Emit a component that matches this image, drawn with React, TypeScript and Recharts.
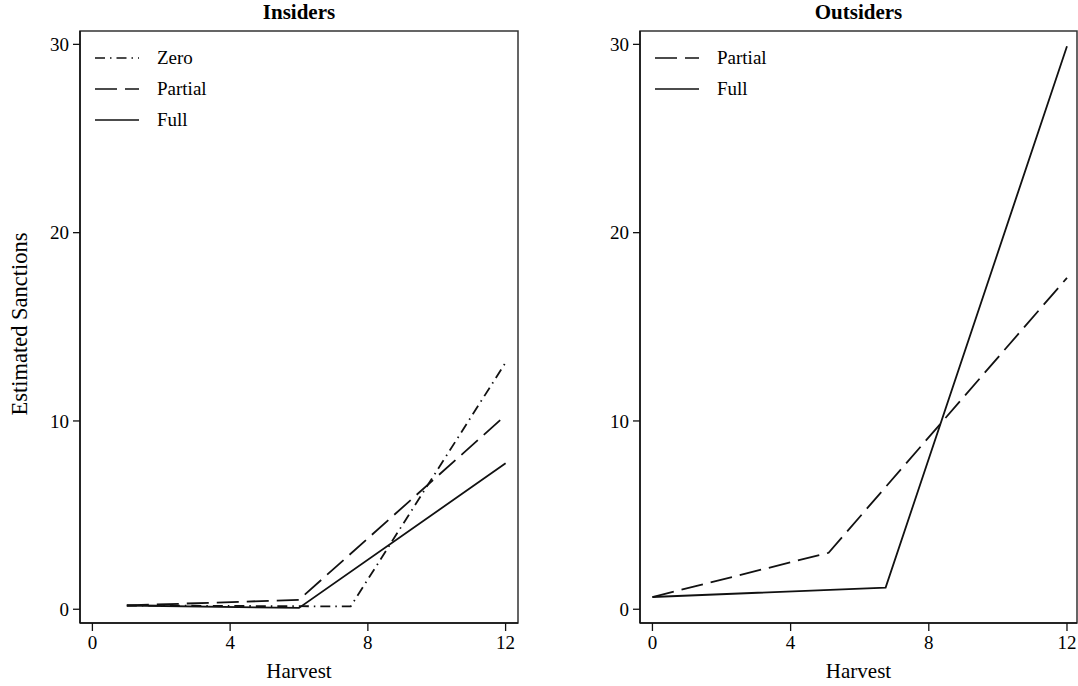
import {
  LineChart,
  Line,
  XAxis,
  YAxis,
  ReferenceArea,
  Legend,
} from "recharts";

// Insiders panel (harvest, estimated sanctions)
const insZeroHarvest = [1, 7.5, 12];
const insZeroValues = [0.2, 0.15, 13.1];
const insPartialHarvest = [1, 6, 12];
const insPartialValues = [0.2, 0.5, 10.3];
const insFullHarvest = [1, 6, 12];
const insFullValues = [0.2, 0.07, 7.75];

// Outsiders panel
const outPartialHarvest = [0, 5.1, 12];
const outPartialValues = [0.65, 3.0, 17.6];
const outFullHarvest = [0, 6.75, 12];
const outFullValues = [0.65, 1.15, 29.9];

const xTicks = [0, 4, 8, 12];
const yTicks = [0, 10, 20, 30];

const FONT = "'Liberation Serif', 'Times New Roman', serif";
const INK = "#111";

const DASH = {
  Zero: "10 5 1.5 5",
  Partial: "22 8",
  Full: undefined as string | undefined,
};

type Series = { name: "Zero" | "Partial" | "Full"; data: { x: number; y: number }[] };

const zip = (xs: number[], ys: number[]) => xs.map((x, i) => ({ x, y: ys[i] }));

const insidersSeries: Series[] = [
  { name: "Zero", data: zip(insZeroHarvest, insZeroValues) },
  { name: "Partial", data: zip(insPartialHarvest, insPartialValues) },
  { name: "Full", data: zip(insFullHarvest, insFullValues) },
];

const outsidersSeries: Series[] = [
  { name: "Partial", data: zip(outPartialHarvest, outPartialValues) },
  { name: "Full", data: zip(outFullHarvest, outFullValues) },
];

const Y_DOMAIN: [number, number] = [-0.73, 30.71];

function YLabel({ viewBox }: any) {
  const cy = viewBox ? viewBox.y + viewBox.height / 2 : 326;
  return (
    <text
      x={19}
      y={cy - 3}
      transform={`rotate(-90, 19, ${cy - 3})`}
      textAnchor="middle"
      dominantBaseline="central"
      fontFamily={FONT}
      fontSize={22.5}
      fill="#000"
    >
      Estimated Sanctions
    </text>
  );
}

function makeLegend(series: Series[]) {
  return () => (
    <div style={{ fontFamily: FONT, fontSize: 19, color: "#000" }}>
      {series.map((s) => (
        <div key={s.name} style={{ display: "flex", alignItems: "center", height: 31 }}>
          <svg width={44} height={4} style={{ marginRight: 18 }}>
            <line x1={0} y1={2} x2={44} y2={2} stroke={INK} strokeWidth={1.7} strokeDasharray={DASH[s.name]} />
          </svg>
          <span>{s.name}</span>
        </div>
      ))}
    </div>
  );
}

interface PanelProps {
  title: string;
  series: Series[];
  left: number;
  width: number;
  yAxisWidth: number;
  marginRight: number;
  xDomain: [number, number];
  showYLabel: boolean;
}

function Panel({ title, series, left, width, yAxisWidth, marginRight, xDomain, showYLabel }: PanelProps) {
  const plotWidth = width - yAxisWidth - marginRight;
  return (
    <div style={{ position: "absolute", left, top: 0, width, height: 686, fontFamily: FONT }}>
      <div
        style={{
          position: "absolute",
          left: yAxisWidth,
          width: plotWidth,
          top: 2,
          textAlign: "center",
          fontFamily: FONT,
          fontWeight: "bold",
          fontSize: 21,
          lineHeight: "21px",
        }}
      >
        {title}
      </div>
      <LineChart
        width={width}
        height={686}
        margin={{ top: 31, right: marginRight, bottom: 0, left: 0 }}
        style={{ fontFamily: FONT }}
      >
        <XAxis
          type="number"
          dataKey="x"
          domain={xDomain}
          ticks={xTicks}
          allowDataOverflow
          height={63}
          tickSize={8}
          tickMargin={5}
          tick={{ fill: "#000", fontSize: 19, fontFamily: FONT }}
          tickLine={{ stroke: INK, strokeWidth: 1.3 }}
          axisLine={{ stroke: INK, strokeWidth: 1.5 }}
          label={{ value: "Harvest", position: "insideBottom", offset: 8, fill: "#000", fontSize: 21, fontFamily: FONT }}
        />
        <YAxis
          type="number"
          dataKey="y"
          domain={Y_DOMAIN}
          ticks={yTicks}
          allowDataOverflow
          width={yAxisWidth}
          tickSize={7}
          tickMargin={4}
          tick={{ fill: "#000", fontSize: 19, fontFamily: FONT }}
          tickLine={{ stroke: INK, strokeWidth: 1.3 }}
          axisLine={{ stroke: INK, strokeWidth: 1.5 }}
          label={showYLabel ? <YLabel /> : undefined}
        />
        <ReferenceArea
          x1={xDomain[0]}
          x2={xDomain[1]}
          y1={Y_DOMAIN[0]}
          y2={Y_DOMAIN[1]}
          fill="none"
          stroke="#333"
          strokeWidth={1.5}
          ifOverflow="visible"
        />
        <Legend
          layout="vertical"
          align="center"
          verticalAlign="middle"
          content={makeLegend(series)}
          wrapperStyle={{ left: yAxisWidth + 15, top: 42, width: 200 }}
        />
        {series.map((s) => (
          <Line
            key={s.name}
            data={s.data}
            dataKey="y"
            name={s.name}
            type="linear"
            stroke={INK}
            strokeWidth={1.8}
            strokeDasharray={DASH[s.name]}
            dot={false}
            activeDot={false}
            isAnimationActive={false}
          />
        ))}
      </LineChart>
    </div>
  );
}

export default function App() {
  return (
    <div style={{ position: "absolute", left: 0, top: 0, width: 1078, height: 686, background: "#fff" }}>
      <Panel
        title="Insiders"
        series={insidersSeries}
        left={0}
        width={540}
        yAxisWidth={80}
        marginRight={22}
        xDomain={[-0.36, 12.36]}
        showYLabel
      />
      <Panel
        title="Outsiders"
        series={outsidersSeries}
        left={540}
        width={538}
        yAxisWidth={100}
        marginRight={1}
        xDomain={[-0.36, 12.29]}
        showYLabel={false}
      />
    </div>
  );
}
